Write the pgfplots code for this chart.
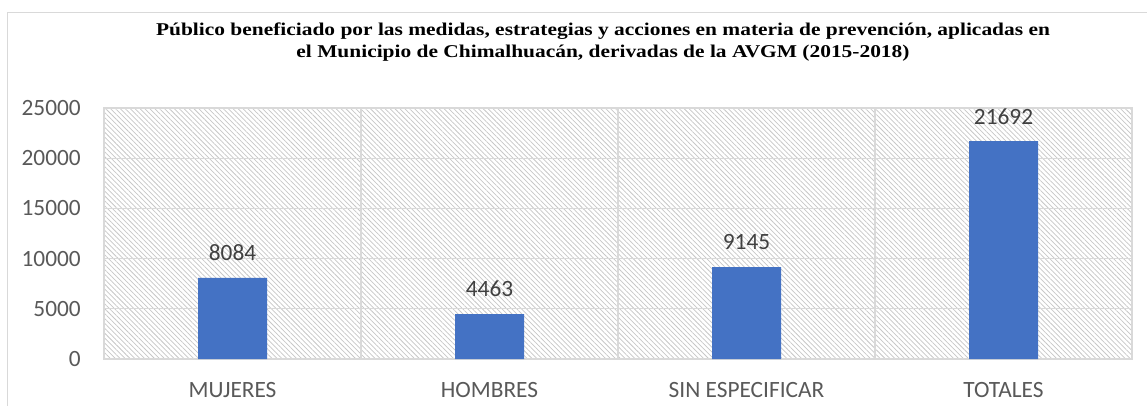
\documentclass[border=0pt]{standalone}
\usepackage{pgfplots}
\pgfplotsset{compat=1.18}
\usepackage{fontspec}
\setmainfont{Carlito}
\newfontfamily\titlefont[FakeStretch=1.19]{Liberation Serif}
\usetikzlibrary{patterns.meta}
\definecolor{barblue}{HTML}{4472C4}
\definecolor{gridc}{HTML}{D9D9D9}
\definecolor{tickc}{HTML}{595959}
\definecolor{labc}{HTML}{404040}
\begin{document}
\begin{tikzpicture}
\useasboundingbox (0,0) rectangle (860.25pt,303.75pt);
\fill[white] (0,0) rectangle (860.25pt,303.75pt);
\draw[gridc, line width=0.75pt] (5.25pt,-1pt) -- (5.25pt,294.75pt) -- (862pt,294.75pt);
\node[font=\titlefont\bfseries\fontsize{13.5}{16}\selectfont, anchor=base] at (452.25pt,277.5pt) {Público beneficiado por las medidas, estrategias y acciones en materia de prevención, aplicadas en};
\node[font=\titlefont\bfseries\fontsize{13.5}{16}\selectfont, anchor=base] at (452.25pt,261pt) {el Municipio de Chimalhuacán, derivadas de la AVGM (2015-2018)};
\begin{axis}[
  at={(78pt,34.5pt)}, anchor=south west,
  scale only axis, width=771pt, height=188.25pt,
  xmin=-0.5, xmax=3.5, ymin=0, ymax=25000,
  ytick={0,5000,10000,15000,20000,25000},
  scaled y ticks=false,
  xtick={0,1,2,3},
  xticklabels={MUJERES,HOMBRES,SIN ESPECIFICAR,TOTALES},
  minor xtick={0.5,1.5,2.5},
  ymajorgrids, xminorgrids,
  grid style={gridc, line width=0.9pt},
  minor grid style={gridc, line width=0.9pt},
  axis line style={gridc, line width=0.9pt},
  major tick length=0pt, minor tick length=0pt,
  tick style={draw=none},
  /pgf/number format/1000 sep={},
  /pgf/number format/assume math mode=true,
  ticklabel style={font=\fontsize{17.5}{20}\selectfont, text=tickc, inner sep=0pt},
  yticklabel style={anchor=east, xshift=-17.25pt},
  xticklabel style={anchor=north, yshift=-17.6pt},
  axis background/.style={pattern={Lines[angle=-45,distance=2.6pt,line width=0.55pt]}, pattern color=black!22},
  ybar, bar width=51.75pt,
  nodes near coords,
  every node near coord/.append style={anchor=center, inner sep=0pt, yshift=18.75pt, font=\fontsize{17.5}{20}\selectfont, text=labc},
]
\addplot[fill=barblue, draw=none] coordinates {(0,8084) (1,4463) (2,9145) (3,21692)};
\end{axis}
\end{tikzpicture}
\end{document}
